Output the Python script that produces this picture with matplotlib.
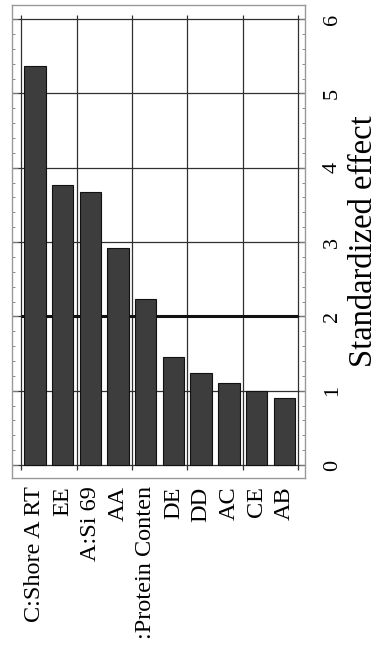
import matplotlib
matplotlib.use("Agg")
import matplotlib.pyplot as plt
import numpy as np
from matplotlib.ticker import MultipleLocator

categories = ["C:Shore A RT", "EE", "A:Si 69", "AA", ":Protein Conten",
              "DE", "DD", "AC", "CE", "AB"]
effects = [5.37, 3.77, 3.67, 2.92, 2.23, 1.45, 1.24, 1.11, 1.00, 0.90]
y_ticks = [0, 1, 2, 3, 4, 5, 6]
significance = 2.0
y_label = "Standardized effect"

plt.rcParams['font.family'] = ['Liberation Serif', 'DejaVu Serif']

fig = plt.figure(figsize=(3.81, 6.48), dpi=100)
ax = fig.add_axes([12/381, 1 - 478/648, (305-12)/381, (478-5)/648])

x = np.arange(len(categories))
# grid
for gx in np.arange(-0.5, len(categories), 2):
    ax.vlines(gx, -0.07, 6.05, color="#303030", lw=0.9, zorder=1)
for gy in y_ticks:
    ax.hlines(gy, -0.83, 9.75, color="#303030", lw=0.9, zorder=1)
ax.hlines(significance, -0.5, 9.5, color="#111111", lw=2.2, zorder=1.5)

ax.bar(x, effects, width=0.77, color="#3d3d3d", edgecolor="#111111",
       linewidth=0.8, zorder=2)

ax.set_xlim(-0.83, 9.75)
ax.set_ylim(-0.175, 6.19)

ax.set_xticks(x)
ax.set_xticklabels(categories, rotation=90, fontsize=17.5)
ax.tick_params(axis='x', length=0, pad=6)

ax.yaxis.tick_right()
ax.yaxis.set_label_position('right')
ax.set_yticks(y_ticks)
ax.set_yticklabels([str(v) for v in y_ticks], rotation=90, va='center',
                   fontsize=16)
ax.yaxis.set_minor_locator(MultipleLocator(0.2))
ax.tick_params(axis='y', which='both', direction='in', left=True, right=True,
               color="#777777")
ax.tick_params(axis='y', which='major', length=4, pad=13)
ax.tick_params(axis='y', which='minor', length=2.5)
ax.set_ylabel(y_label, fontsize=23.5, rotation=90, labelpad=5)

for s in ax.spines.values():
    s.set_color("#999999")
    s.set_linewidth(1.0)

fig.savefig("out.png", dpi=100)
